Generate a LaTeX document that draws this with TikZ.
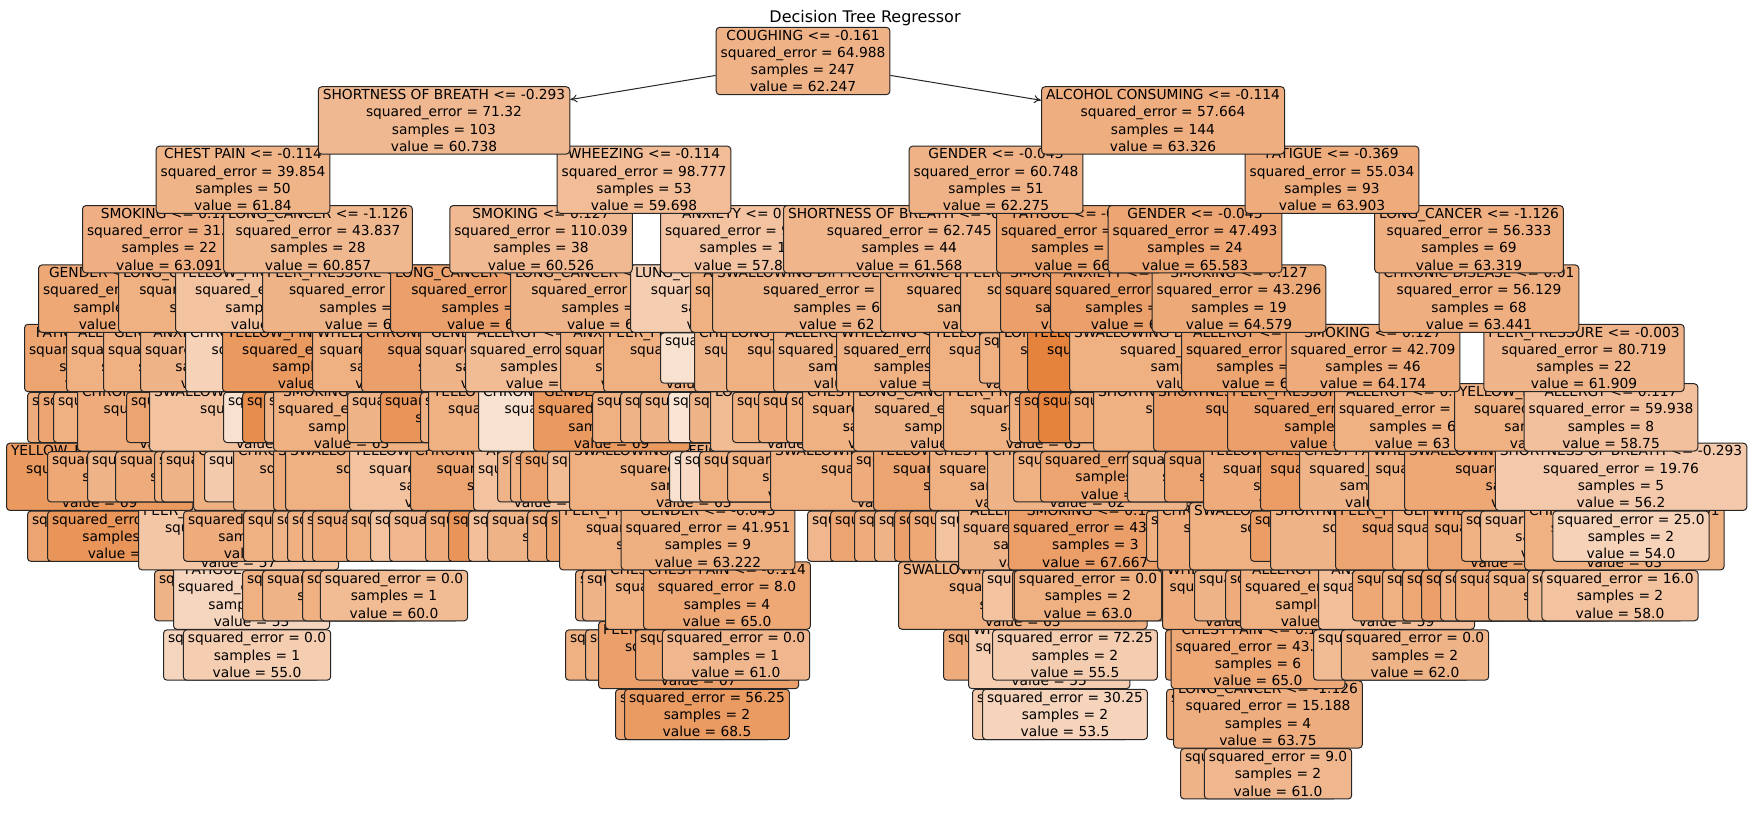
\documentclass[tikz,border=0pt]{standalone}
\usepackage{fontspec}
\setmainfont{DejaVu Sans}
\usetikzlibrary{arrows.meta}
\definecolor{treeorange}{HTML}{E58139}

\tikzset{
    tbox/.style={rectangle, draw=black!85, line width=1pt, rounded corners=3.5pt, align=center,
        inner xsep=4.5pt, inner ysep=2.5pt, font=\fontsize{13.8}{17.3}\selectfont},
    tarrow/.style={-{To[length=7pt,width=8pt]}, line width=1pt, black!85}
}

% node with a split rule
\newcommand{\tnode}[8]{%
  \pgfmathsetmacro{\tshade}{min(100,max(5,39+3*(#8-55)))}%
  \node[tbox, anchor=#2, fill=treeorange!\tshade!white] (#1) at (#3,{61+59.4*#4})
    {#5\\squared\_error = #6\\samples = #7\\value = #8};}
% leaf node
\newcommand{\tleaf}[7]{%
  \pgfmathsetmacro{\tshade}{min(100,max(5,39+3*(#7-55)))}%
  \node[tbox, anchor=#2, fill=treeorange!\tshade!white] (#1) at (#3,{61+59.4*#4})
    {squared\_error = #5\\samples = #6\\value = #7};}
% a row of partly hidden nodes, placed by their left edge
\newcommand{\crow}[3]{%
  \foreach \x/\h/\v [count=\i] in {#3} {%
    \ifx\h\empty \tleaf{c#1x\i}{west}{\x}{#2}{42.5}{6}{\v}%
    \else \tnode{c#1x\i}{west}{\x}{#2}{\h}{42.5}{6}{\v}\fi}}

\begin{document}
\begin{tikzpicture}[x=1pt, y=-1pt]
\useasboundingbox (0,0) rectangle (1752,812);

% level 12
\crow{12a}{12}{1180//62}
\tleaf{l12a}{center}{1278}{12}{9.0}{2}{61.0}

% level 11
\crow{11a}{11}{615//66, 972//56, 1166//64}
\tleaf{l11a}{center}{707}{11}{56.25}{2}{68.5}
\tleaf{l11b}{center}{1065}{11}{30.25}{2}{53.5}
\tnode{l11c}{center}{1268}{11}{LONG\_CANCER <= -1.126}{15.188}{4}{63.75}

% level 10
\crow{10a}{10}{163//53, 565//63, 585//63, 598/PEER\_PRESSURE <= -0.003/67, 635//65}
\tleaf{l10a}{center}{257}{10}{0.0}{1}{55.0}
\tleaf{l10b}{center}{736}{10}{0.0}{1}{61.0}
\crow{10b}{10}{943//64, 968/WHEEZING <= -0.114/55}
\tleaf{l10c}{center}{1075}{10}{72.25}{2}{55.5}
\crow{10c}{10}{1165//66}
\tnode{l10d}{center}{1258}{10}{CHEST PAIN <= 0.114}{43.556}{6}{65.0}
\crow{10d}{10}{1313//60}
\tleaf{l10e}{center}{1415}{10}{0.0}{2}{62.0}

% level 9
\crow{9a}{9}{154//62, 173/FATIGUE  <= -0.369/53, 242//63, 262//62, 302//63}
\tleaf{l9a}{center}{394}{9}{0.0}{1}{60.0}
\crow{9b}{9}{575//62, 582//62, 605/CHEST PAIN <= -0.114/63}
\tnode{l9b}{center}{727}{9}{CHEST PAIN <= -0.114}{8.0}{4}{65.0}
\crow{9c}{9}{898/SWALLOWING DIFFICULTY <= 0.01/63, 982//58, 1012//72}
\tleaf{l9c}{center}{1088}{9}{0.0}{2}{63.0}
\crow{9d}{9}{1162/WHEEZING <= -0.114/64, 1194//62, 1225//64, 1240/ALLERGY <= 0.117/63,
  1318/ANXIETY <= 0.076/59, 1352//65, 1382//63, 1402//65, 1421//67, 1440//63,
  1455//64, 1488//62, 1527//60}
\tleaf{l9d}{center}{1620}{9}{16.0}{2}{58.0}

% level 8
\crow{8a}{8}{27//66, 47//70, 138/PEER\_PRESSURE <= -0.003/57, 183//64, 243//63, 272//62,
  287//63, 302//62, 312//64, 346//63, 370//58, 389//61, 425//64, 448//70, 468//59,
  487//62, 527//64, 546//66, 559/PEER\_PRESSURE <= -0.003/63}
\tnode{l8a}{center}{708}{8}{GENDER <= -0.043}{41.951}{9}{63.222}
\crow{8b}{8}{807//61, 830//66, 854//64, 874//62, 894//67, 909//65, 935//58,
  958/ALLERGY <= 0.117/62}
\tnode{l8b}{west}{1008}{8}{SMOKING <= 0.127}{43.556}{3}{67.667}
\crow{8c}{8}{1146//63, 1157/CHRONIC DISEASE <= 0.01/64, 1189/SWALLOWING DIFFICULTY <= 0.01/63,
  1250//68, 1270/SHORTNESS OF BREATH <= -0.293/62, 1335/PEER\_PRESSURE <= -0.003/66,
  1392/GENDER <= -0.043/63, 1427/WHEEZING <= -0.114/66, 1461//63, 1480//60,
  1524/CHRONIC DISEASE <= 0.01/63}
\tleaf{l8c}{center}{1631}{8}{25.0}{2}{54.0}

% level 7
\crow{7a}{7}{6/YELLOW\_FINGERS <= 0.5/69, 47//65, 87//62, 115//64, 154//63, 161//62,
  193/CHRONIC DISEASE <= 0.01/63, 204//56, 233/CHRONIC DISEASE <= 0.01/62,
  273/SWALLOWING DIFFICULTY <= 0.01/64, 285/SWALLOWING DIFFICULTY <= 0.01/63,
  349/YELLOW\_FINGERS <= 0.5/58, 410/CHRONIC DISEASE <= 0.01/66, 473/ANXIETY <= 0.076/58,
  497//62, 510//63, 520//66, 547//60, 569/SWALLOWING DIFFICULTY <= 0.01/63,
  669//50, 680//52, 699//63, 727//63, 770/SWALLOWING DIFFICULTY <= 0.01/63,
  851//64, 873/YELLOW\_FINGERS <= 0.5/66, 929/CHEST PAIN <= -0.114/63,
  987/CHRONIC DISEASE <= 0.01/62, 1013//63, 1040//66, 1127//62, 1164//66,
  1203/YELLOW\_FINGERS <= 0.5/64, 1260/CHEST PAIN <= -0.114/68,
  1299/CHEST PAIN <= -0.114/62, 1368/WHEEZING <= -0.114/63,
  1404/SWALLOWING DIFFICULTY <= 0.01/65}
\tnode{l7a}{center}{1621}{7}{SHORTNESS OF BREATH <= -0.293}{19.76}{5}{56.2}

% level 6
\crow{6a}{6}{27//64, 38//66, 53//63, 77/CHRONIC DISEASE <= 0.01/64, 126//66,
  149/SWALLOWING DIFFICULTY <= 0.01/58, 223//50, 242//72, 264//62, 273/SMOKING <= 0.127/63,
  347//62, 380//70, 420//63, 428/YELLOW\_FINGERS <= 0.5/63, 478/CHRONIC DISEASE <= 0.01/50,
  533/GENDER <= -0.043/69, 592//63, 620//62, 640//62, 668//49, 689//62,
  710/LONG\_CANCER <= -1.126/60, 732//63, 758//64, 786//63, 802/CHEST PAIN <= -0.114/63,
  853/LONG\_CANCER <= -1.126/62, 943/PEER\_PRESSURE <= -0.003/63, 1009//63, 1019//70,
  1038//75, 1069//65, 1093/SHORTNESS OF BREATH <= -0.293/63,
  1153/SHORTNESS OF BREATH <= -0.293/67, 1227/PEER\_PRESSURE <= -0.003/67,
  1334/ALLERGY <= 0.117/63, 1454/YELLOW\_FINGERS <= 0.5/63}
\tnode{l6a}{center}{1611}{6}{ALLERGY <= 0.117}{59.938}{8}{58.75}

% level 5
\crow{5a}{5}{24/FATIGUE  <= -0.369/66, 66/ALLERGY <= 0.117/63, 103/GENDER <= -0.043/63,
  140/ANXIETY <= 0.076/62, 185/CHRONIC DISEASE <= 0.01/54, 222/YELLOW\_FINGERS <= 0.5/69,
  312/WHEEZING <= -0.114/63, 361/CHRONIC DISEASE <= 0.01/67, 420/GENDER <= -0.043/62,
  465/ALLERGY <= 0.117/60, 560/ANXIETY <= 0.076/63, 603/PEER\_PRESSURE <= -0.003/63,
  660//50, 694/CHEST PAIN <= -0.114/62, 726/LONG\_CANCER <= -1.126/63,
  773/ALLERGY <= 0.117/62, 836/WHEEZING <= -0.114/63, 929/YELLOW\_FINGERS <= 0.5/63,
  979//63, 999/LONG\_CANCER <= -1.126/65, 1027/YELLOW\_FINGERS <= 0.5/75,
  1069/SWALLOWING DIFFICULTY <= 0.01/63, 1181/ALLERGY <= 0.117/66}
\tnode{l5a}{center}{1373}{5}{SMOKING <= 0.127}{42.709}{46}{64.174}
\tnode{l5b}{center}{1584}{5}{PEER\_PRESSURE <= -0.003}{80.719}{22}{61.909}

% level 4
\crow{4a}{4}{38/GENDER <= -0.043/65, 118/LONG\_CANCER <= -1.126/63, 175/YELLOW\_FINGERS <= 0.5/58,
  262/PEER\_PRESSURE <= -0.003/62, 390/LONG\_CANCER <= -1.126/67, 510/LONG\_CANCER <= -1.126/62,
  630/LUNG\_CANCER <= -1.126/55, 690/ANXIETY <= 0.076/63,
  712/SWALLOWING DIFFICULTY <= 0.01/62, 880/CHRONIC DISEASE <= 0.01/63,
  960/PEER\_PRESSURE <= -0.003/63, 1000/SMOKING <= 0.127/67, 1050/ANXIETY <= 0.076/67}
\tnode{l4a}{center}{1239}{4}{SMOKING <= 0.127}{43.296}{19}{64.579}
\tnode{l4b}{center}{1479}{4}{CHRONIC DISEASE <= 0.01}{56.129}{68}{63.441}

% level 3
\tnode{l3a}{west}{82}{3}{SMOKING <= 0.127}{31.355}{22}{63.091}
\tnode{l3b}{center}{318}{3}{LONG\_CANCER <= -1.126}{43.837}{28}{60.857}
\tnode{l3c}{center}{541}{3}{SMOKING <= 0.127}{110.039}{38}{60.526}
\tnode{l3d}{west}{660}{3}{ANXIETY <= 0.076}{95.316}{15}{57.867}
\tnode{l3e}{west}{783}{3}{SHORTNESS OF BREATH <= -0.293}{62.745}{44}{61.568}
\tnode{l3f}{west}{996}{3}{FATIGUE  <= -0.369}{60.21}{27}{66.1}
\tnode{l3g}{center}{1195}{3}{GENDER <= -0.043}{47.493}{24}{65.583}
\tnode{l3h}{center}{1469}{3}{LONG\_CANCER <= -1.126}{56.333}{69}{63.319}

% level 2
\tnode{chest}{center}{243}{2}{CHEST PAIN <= -0.114}{39.854}{50}{61.84}
\tnode{wheez}{center}{644}{2}{WHEEZING <= -0.114}{98.777}{53}{59.698}
\tnode{gender}{center}{996}{2}{GENDER <= -0.043}{60.748}{51}{62.275}
\tnode{fatig}{center}{1332}{2}{FATIGUE  <= -0.369}{55.034}{93}{63.903}

% level 1
\tnode{breath}{center}{444}{1}{SHORTNESS OF BREATH <= -0.293}{71.32}{103}{60.738}
\tnode{alcohol}{center}{1163}{1}{ALCOHOL CONSUMING <= -0.114}{57.664}{144}{63.326}

% root
\tnode{cough}{center}{803}{0}{COUGHING <= -0.161}{64.988}{247}{62.247}
\node[font=\fontsize{16}{19}\selectfont] (title) at (865,18) {Decision Tree Regressor};

% edges that stay visible
\draw[tarrow] (cough) -- (breath);
\draw[tarrow] (cough) -- (alcohol);

\end{tikzpicture}
\end{document}
